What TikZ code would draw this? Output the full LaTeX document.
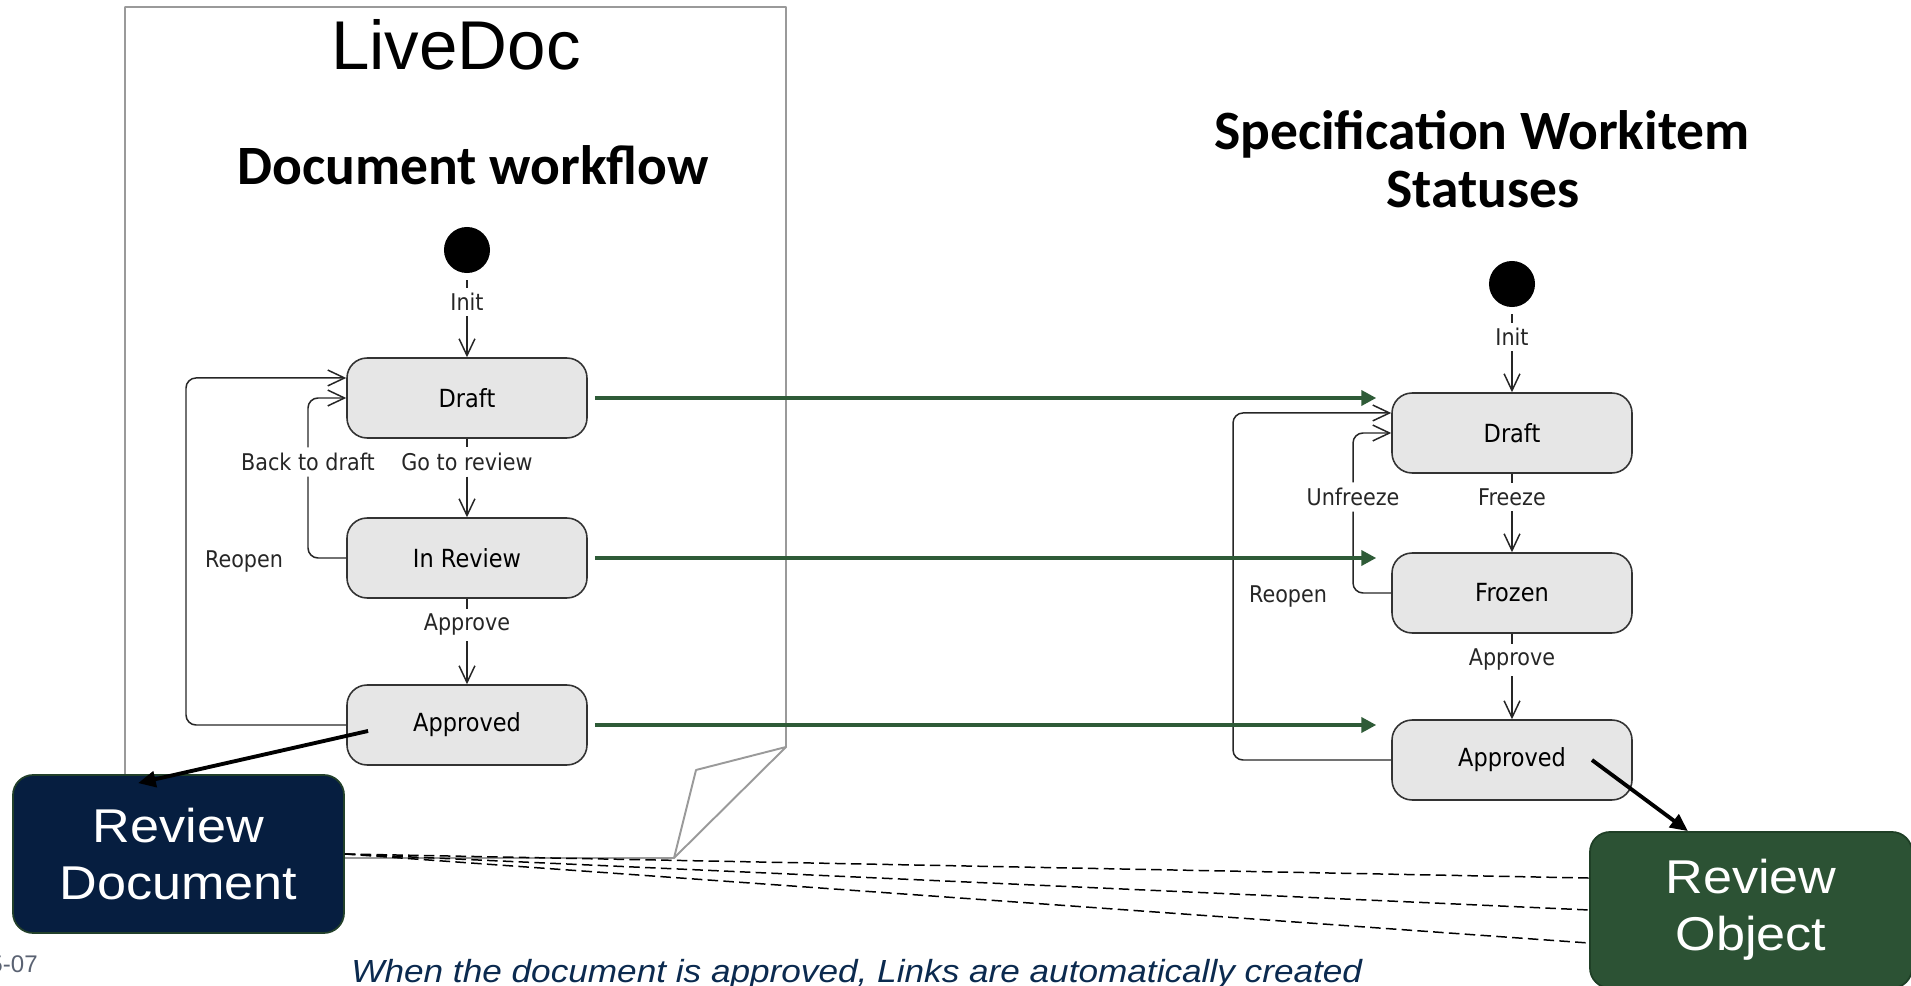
\documentclass[tikz,border=0pt]{standalone}
\usepackage{fontspec}
\setmainfont{Liberation Sans}
\newfontfamily\lblfont{DejaVu Sans}[FakeStretch=0.9]
\newfontfamily\ttlfont{Carlito}
\newfontfamily\boxfont{Liberation Sans}[FakeStretch=1.1]
\usetikzlibrary{arrows.meta,calc}
\definecolor{stategray}{HTML}{E6E6E6}
\definecolor{framegray}{HTML}{9A9A9A}
\definecolor{arrowgreen}{HTML}{2E5B37}
\definecolor{navy}{HTML}{061E40}
\definecolor{rdborder}{HTML}{22402A}
\definecolor{rogreen}{HTML}{2C5234}
\definecolor{roborder}{HTML}{1F3F26}
\definecolor{capnavy}{HTML}{0B2A4F}
\definecolor{dategray}{HTML}{5A6272}
\begin{document}
\begin{tikzpicture}[x=0.02cm,y=-0.02cm,
  state/.style={draw=black!80, line width=0.9pt, fill=stategray, rounded corners=11.4pt,
    minimum width=136.6pt, minimum height=45.5pt, inner sep=0pt,
    font=\lblfont\fontsize{14.2}{17}\selectfont},
  lbl/.style={font=\lblfont\fontsize{13.1}{15.7}\selectfont, inner sep=3pt, text=black!85},
  conn/.style={draw=black!85, line width=0.85pt},
  rconn/.style={conn, rounded corners=5.7pt},
  vhead/.style={-{Straight Barb[length=9.5pt,width=9pt]}},
  garrow/.style={draw=arrowgreen, line width=2.3pt, -{Triangle[length=8.5pt,width=8.5pt]},
    shorten <=4pt, shorten >=8.5pt},
  barrow/.style={draw=black, line width=2.2pt, -{Triangle[length=10pt,width=9pt]}},
  dlink/.style={draw=black, line width=0.85pt, dash pattern=on 6pt off 3pt},
  initdot/.style={circle, fill=black, minimum size=26.2pt, inner sep=0pt},
  bigbox/.style={rounded corners=11.4pt, line width=1pt, text=white, align=center,
    inner sep=0pt, font=\boxfont\fontsize{27}{32.4}\selectfont},
  ttl/.style={font=\ttlfont\bfseries\fontsize{31.6}{38}\selectfont, anchor=base, inner sep=0pt},
]
\useasboundingbox (0,0) rectangle (1911,986);
\clip (0,0) rectangle (1911,986);

% LiveDoc page frame with folded corner
\draw[framegray, line width=1.1pt, line join=round]
  (125,7) -- (786,7) -- (786,747) -- (674,858) -- (125,858) -- cycle;
\draw[framegray, line width=1.1pt, line join=round] (786,747) -- (696,770) -- (674,858);

% titles
\node[font=\fontsize{39.3}{47}\selectfont, anchor=base, inner sep=0pt] (livedoc) at (456,70) {LiveDoc};
\node[ttl] (dwf) at (473,185) {Document workflow};
\node[ttl] (swi1) at (1482,150) {Specification Workitem};
\node[ttl] (swi2) at (1483,208) {Statuses};

% left state machine
\node[initdot] (i1) at (467,250) {};
\node[state] (d1) at (467,398) {Draft};
\node[state] (r1) at (467,558) {In Review};
\node[state] (a1) at (467,725) {Approved};
\node[lbl] (li1) at (467,302) {Init};
\node[lbl] (lgr) at (467,462) {Go to review};
\node[lbl] (lbd) at (308,462) {Back to draft};
\node[lbl] (lro1) at (244,562) {Reopen};
\node[lbl] (lap1) at (467,625) {Approve};
\coordinate (cro1) at (186,0);

\draw[conn, shorten <=4pt] (i1) -- (li1);
\draw[conn, vhead] (li1) -- (d1);
\draw[conn] (d1) -- (lgr);
\draw[conn, vhead] (lgr) -- (r1);
\draw[conn] (r1) -- (lap1);
\draw[conn, vhead] (lap1) -- (a1);
\draw[rconn] (r1.west) -| (lbd);
\draw[rconn, vhead] (lbd) |- (d1.west);
\draw[rconn, vhead] (a1.west) -- (a1.west -| cro1) |- ([yshift=11.4pt]d1.west);

% right state machine
\node[initdot] (i2) at (1512,284) {};
\node[state] (d2) at (1512,433) {Draft};
\node[state] (f2) at (1512,593) {Frozen};
\node[state] (a2) at (1512,760) {Approved};
\node[lbl] (li2) at (1512,337) {Init};
\node[lbl] (lfr) at (1512,497) {Freeze};
\node[lbl] (luf) at (1353,497) {Unfreeze};
\node[lbl] (lro2) at (1288,597) {Reopen};
\node[lbl] (lap2) at (1512,660) {Approve};
\coordinate (cro2) at (1233,0);

\draw[conn, shorten <=4pt] (i2) -- (li2);
\draw[conn, vhead] (li2) -- (d2);
\draw[conn] (d2) -- (lfr);
\draw[conn, vhead] (lfr) -- (f2);
\draw[conn] (f2) -- (lap2);
\draw[conn, vhead] (lap2) -- (a2);
\draw[rconn] (f2.west) -| (luf);
\draw[rconn, vhead] (luf) |- (d2.west);
\draw[rconn, vhead] (a2.west) -- (a2.west -| cro2) |- ([yshift=11.4pt]d2.west);

% green mapping arrows
\draw[garrow] (d1.east) -- (d1.east -| d2.west);
\draw[garrow] (r1.east) -- (r1.east -| f2.west);
\draw[garrow] (a1.east) -- (a1.east -| a2.west);

% review boxes
\node[bigbox, fill=navy, draw=rdborder, minimum width=188.4pt, minimum height=89.9pt]
  (rd) at (178.5,854) {Review\\Document};
\node[bigbox, fill=rogreen, draw=roborder, minimum width=183.3pt, minimum height=88.8pt]
  (ro) at (1751,910) {Review\\Object};

% dashed links
\draw[dlink] (rd.east) -- ([yshift=18.2pt]ro.west);
\draw[dlink] (rd.east) -- (ro.west);
\draw[dlink] (rd.east) -- ([yshift=-18.8pt]ro.west);

% black arrows
\draw[barrow] ([xshift=-56.3pt,yshift=-3.4pt]a1.center) -- ([xshift=-23pt,yshift=-5.1pt]rd.north);
\draw[barrow] ([xshift=45.5pt]a2.center) -- ([xshift=-35.9pt]ro.north);

% footer texts
\node[font=\fontsize{13.7}{16}\selectfont, text=dategray, anchor=base east, inner sep=0pt]
  (date) at (38,972) {5-07};
\node[font=\boxfont\itshape\fontsize{18.2}{22}\selectfont, text=capnavy, anchor=base west, inner sep=0pt]
  (cap) at (351,982) {When the document is approved, Links are automatically created};
\end{tikzpicture}
\end{document}
